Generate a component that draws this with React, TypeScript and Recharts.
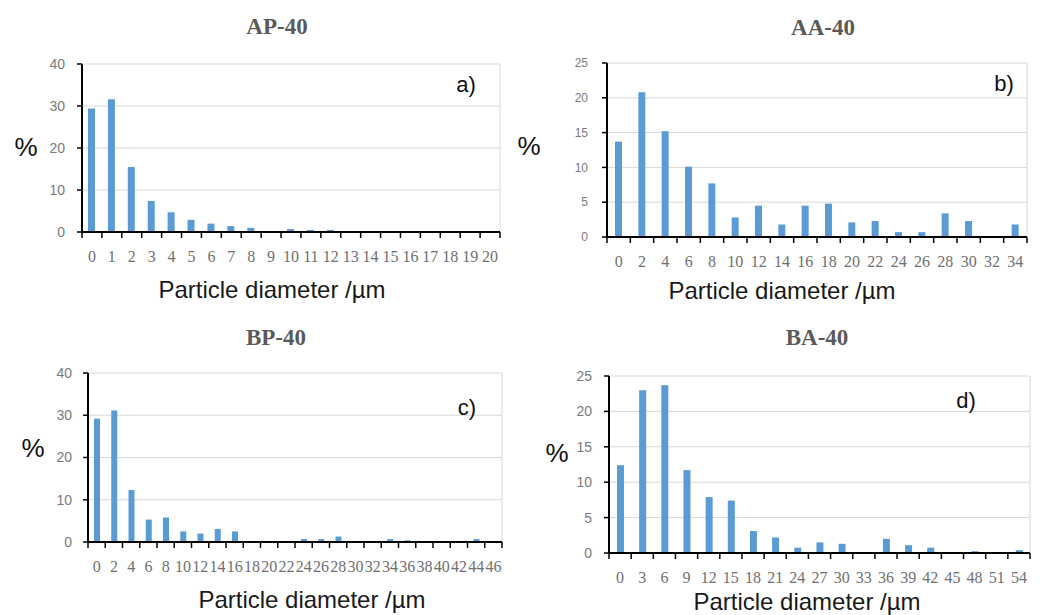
import React from 'react';
import { BarChart, Bar, XAxis, YAxis, CartesianGrid } from 'recharts';

// Particle size distributions (% per diameter class, µm)
const apDiameters = ['0', '1', '2', '3', '4', '5', '6', '7', '8', '9', '10', '11', '12', '13', '14', '15', '16', '17', '18', '19', '20'];
const apPercent = [29.4, 31.6, 15.5, 7.4, 4.7, 2.9, 2.0, 1.4, 1.0, 0, 0.7, 0.5, 0.5, 0, 0, 0, 0, 0, 0, 0, 0];

const aaDiameters = ['0', '2', '4', '6', '8', '10', '12', '14', '16', '18', '20', '22', '24', '26', '28', '30', '32', '34'];
const aaPercent = [13.7, 20.8, 15.2, 10.1, 7.7, 2.8, 4.5, 1.8, 4.5, 4.8, 2.1, 2.3, 0.7, 0.7, 3.4, 2.3, 0, 1.8];

const bpDiameters = ['0', '2', '4', '6', '8', '10', '12', '14', '16', '18', '20', '22', '24', '26', '28', '30', '32', '34', '36', '38', '40', '42', '44', '46'];
const bpPercent = [29.2, 31.1, 12.3, 5.3, 5.8, 2.5, 2.0, 3.1, 2.5, 0, 0, 0, 0.7, 0.7, 1.3, 0, 0, 0.7, 0.4, 0, 0, 0, 0.7, 0];

const baDiameters = ['0', '3', '6', '9', '12', '15', '18', '21', '24', '27', '30', '33', '36', '39', '42', '45', '48', '51', '54'];
const baPercent = [12.4, 23.0, 23.7, 11.7, 7.9, 7.4, 3.1, 2.2, 0.75, 1.5, 1.3, 0, 2.0, 1.1, 0.75, 0, 0.25, 0, 0.4];

const pTicks = [0, 10, 20, 30, 40];
const aTicks = [0, 5, 10, 15, 20, 25];

const BAR_COLOR = '#5B9BD5';
const Y_AXIS_W = 60;
const X_AXIS_H = 30;
const X_TICK_SIZE = 6;
const X_TICK_MARGIN = 13;

type Rect = { left: number; top: number; width: number; height: number };
type Plot = { left: number; top: number; right: number; bottom: number };

interface PanelProps {
  title: string;
  letter: string;
  categories: string[];
  values: number[];
  yTicks: number[];
  box: Rect;
  plot: Plot;
  barSize: number;
  yTickMargin: number;
  yTickFont: number;
  titleAt: [number, number];
  pctAt: [number, number];
  letterAt: [number, number];
  axisTitleAt: [number, number];
}

const textAt = (pos: [number, number], style: React.CSSProperties, content: string) => (
  <div
    style={{
      position: 'absolute',
      left: pos[0],
      top: pos[1],
      transform: 'translate(-50%, -50%)',
      lineHeight: 1,
      whiteSpace: 'nowrap',
      ...style,
    }}
  >
    {content}
  </div>
);

// category tick: label in the middle, tick marks on the class boundaries
const BoundaryTick = (props: any) => {
  const { x, y, payload, index, band, count } = props;
  const half = band / 2;
  const base = y - X_TICK_MARGIN - X_TICK_SIZE;
  return (
    <g>
      <line x1={x - half} x2={x - half} y1={base} y2={base + X_TICK_SIZE} stroke="#000" strokeWidth={1.5} />
      {index === count - 1 && (
        <line x1={x + half} x2={x + half} y1={base} y2={base + X_TICK_SIZE} stroke="#000" strokeWidth={1.5} />
      )}
      <text
        x={x}
        y={y}
        dy="0.71em"
        textAnchor="middle"
        fill="#707070"
        style={{ fontFamily: '"Liberation Serif", serif', fontSize: 16 }}
      >
        {payload.value}
      </text>
    </g>
  );
};

const Panel: React.FC<PanelProps> = (p) => {
  const { box, plot } = p;
  const margin = {
    top: plot.top - box.top,
    right: box.left + box.width - plot.right,
    bottom: box.top + box.height - plot.bottom - X_AXIS_H,
    left: plot.left - box.left - Y_AXIS_W,
  };
  const plotWidth = plot.right - plot.left;
  const band = plotWidth / p.categories.length;
  const data = p.categories.map((d, i) => ({ d, pct: p.values[i] }));
  const yMax = p.yTicks[p.yTicks.length - 1];

  return (
    <>
      <div style={{ position: 'absolute', left: box.left, top: box.top }}>
        <BarChart width={box.width} height={box.height} data={data} margin={margin}>
          <CartesianGrid
            stroke="#d9d9d9"
            strokeWidth={1}
            verticalPoints={[plot.right - box.left]}
          />
          <XAxis
            dataKey="d"
            height={X_AXIS_H}
            interval={0}
            tickLine={false}
            tickSize={X_TICK_SIZE}
            tickMargin={X_TICK_MARGIN}
            axisLine={{ stroke: '#000', strokeWidth: 2 }}
            tick={(t: any) => <BoundaryTick {...t} band={band} count={p.categories.length} />}
          />
          <YAxis
            width={Y_AXIS_W}
            domain={[0, yMax]}
            ticks={p.yTicks}
            interval={0}
            tickSize={5}
            tickMargin={p.yTickMargin}
            axisLine={{ stroke: '#000', strokeWidth: 2 }}
            tickLine={{ stroke: '#000', strokeWidth: 1.5 }}
            tick={{ fill: '#7a7a7a', fontSize: p.yTickFont, fontFamily: '"Liberation Sans", sans-serif' }}
          />
          <Bar dataKey="pct" fill={BAR_COLOR} barSize={p.barSize} isAnimationActive={false} />
        </BarChart>
      </div>
      {textAt(p.titleAt, { fontFamily: '"Liberation Serif", serif', fontWeight: 'bold', fontSize: 23, color: '#5a5a5a' }, p.title)}
      {textAt(p.pctAt, { fontFamily: '"Liberation Sans", sans-serif', fontSize: 26, color: '#111' }, '%')}
      {textAt(p.letterAt, { fontFamily: '"Liberation Sans", sans-serif', fontSize: 22, color: '#111' }, p.letter)}
      {textAt(p.axisTitleAt, { fontFamily: '"Liberation Sans", sans-serif', fontSize: 24, color: '#1a1a1a' }, 'Particle diameter /µm')}
    </>
  );
};

export default function App() {
  return (
    <div style={{ position: 'absolute', left: 0, top: 0, width: 1046, height: 615, background: '#fff', overflow: 'hidden' }}>
      <Panel
        title="AP-40"
        letter="a)"
        categories={apDiameters}
        values={apPercent}
        yTicks={pTicks}
        box={{ left: 0, top: 0, width: 523, height: 310 }}
        plot={{ left: 82, top: 64, right: 500, bottom: 232 }}
        barSize={7}
        yTickMargin={12}
        yTickFont={14}
        titleAt={[277, 26]}
        pctAt={[26, 147]}
        letterAt={[466, 85]}
        axisTitleAt={[272, 290]}
      />
      <Panel
        title="AA-40"
        letter="b)"
        categories={aaDiameters}
        values={aaPercent}
        yTicks={aTicks}
        box={{ left: 523, top: 0, width: 523, height: 310 }}
        plot={{ left: 607, top: 63, right: 1027, bottom: 237 }}
        barSize={7}
        yTickMargin={14}
        yTickFont={12}
        titleAt={[823, 27]}
        pctAt={[529, 146]}
        letterAt={[1004, 84]}
        axisTitleAt={[782, 291]}
      />
      <Panel
        title="BP-40"
        letter="c)"
        categories={bpDiameters}
        values={bpPercent}
        yTicks={pTicks}
        box={{ left: 0, top: 310, width: 523, height: 305 }}
        plot={{ left: 88, top: 373, right: 502, bottom: 542 }}
        barSize={6}
        yTickMargin={11}
        yTickFont={14}
        titleAt={[276, 337]}
        pctAt={[33, 448]}
        letterAt={[467, 408]}
        axisTitleAt={[312, 600]}
      />
      <Panel
        title="BA-40"
        letter="d)"
        categories={baDiameters}
        values={baPercent}
        yTicks={aTicks}
        box={{ left: 523, top: 310, width: 523, height: 305 }}
        plot={{ left: 609, top: 376, right: 1030, bottom: 553 }}
        barSize={7}
        yTickMargin={12}
        yTickFont={14}
        titleAt={[817, 337]}
        pctAt={[557, 453]}
        letterAt={[966, 401]}
        axisTitleAt={[807, 602]}
      />
    </div>
  );
}
